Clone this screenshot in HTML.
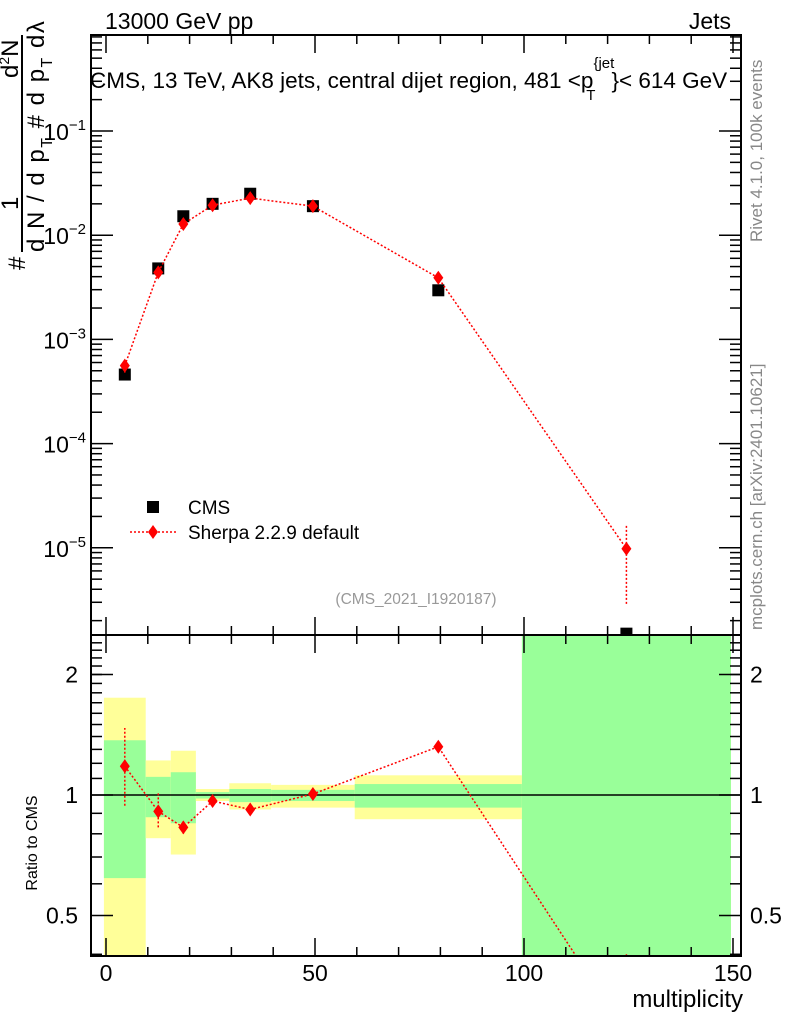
<!DOCTYPE html>
<html><head><meta charset="utf-8"><style>
html,body{margin:0;padding:0;background:#fff;width:786px;height:1024px;overflow:hidden}
svg{display:block;font-family:"Liberation Sans",sans-serif}
</style></head><body>
<svg id="chart" width="786" height="1024" viewBox="0 0 786 1024" xmlns="http://www.w3.org/2000/svg" overflow="hidden">
<text x="105" y="29" font-size="23">13000 GeV pp</text>
<text x="731" y="29" font-size="23" text-anchor="end">Jets</text>
<text x="90" y="88" font-size="22.5">CMS, 13 TeV, AK8 jets, central dijet region, 481 &lt;p<tspan font-size="15" dy="-20">{jet</tspan><tspan font-size="15" dx="-28" dy="32">T</tspan><tspan dx="16" dy="-12">}&lt; 614 GeV</tspan></text>
<text transform="translate(762,242) rotate(-90)" font-size="17" fill="#888">Rivet 4.1.0,  100k events</text>
<text transform="translate(762,630) rotate(-90)" font-size="17" fill="#888">mcplots.cern.ch [arXiv:2401.10621]</text>
<text x="416" y="604" font-size="15.5" fill="#999" text-anchor="middle">(CMS_2021_I1920187)</text>
<g font-size="24">
<text transform="translate(25,270) rotate(-90)">#</text>
<text transform="translate(18,210) rotate(-90)">1</text>
<text transform="translate(18,78) rotate(-90)">d<tspan font-size="14" dy="-9">2</tspan><tspan dy="9">N</tspan></text>
<line x1="22" y1="252" x2="22" y2="35" stroke="#000" stroke-width="2"/>
<text transform="translate(44,252) rotate(-90)" letter-spacing="1.5">d N / d p<tspan font-size="16" dy="8">T</tspan><tspan dy="-8">  # d p</tspan><tspan font-size="16" dy="8">T</tspan><tspan dy="-8">  dλ</tspan></text>
</g>
<text transform="translate(37,843) rotate(-90)" font-size="16" text-anchor="middle">Ratio to CMS</text>
<text x="743" y="1007" font-size="24" text-anchor="end">multiplicity</text>
<g id="g"></g>
</svg>
<script>
const binEdges=[-0.5,9.5,15.5,21.5,29.5,39.5,59.5,99.5,149.5];
const xCenters=[4.5,12.5,18.5,25.5,34.5,49.5,79.5,124.5];
const cmsValues=[4.6e-4,4.8e-3,1.52e-2,2.0e-2,2.5e-2,1.9e-2,2.96e-3,1.5e-6];
const sherpaValues=[5.6e-4,4.4e-3,1.28e-2,1.94e-2,2.27e-2,1.9e-2,3.9e-3,9.8e-6];
const sherpaErrLo=[4.8e-4,4.2e-3,1.22e-2,1.88e-2,2.2e-2,1.85e-2,3.8e-3,2.9e-6];
const sherpaErrHi=[6.4e-4,4.6e-3,1.34e-2,2.0e-2,2.34e-2,1.95e-2,4.0e-3,1.65e-5];
const ratioValues=[1.18,0.91,0.83,0.966,0.92,1.006,1.32,0.255];
const ratioErrLo=[0.94,0.83,0.80,0.95,0.90,0.99,1.28,0.1];
const ratioErrHi=[1.47,1.01,0.86,0.99,0.94,1.02,1.36,0.4];
const yellowHi=[1.75,1.22,1.29,1.035,1.07,1.06,1.12,3];
const yellowLo=[0.3,0.78,0.71,0.966,0.92,0.93,0.87,0.3];
const greenHi=[1.37,1.11,1.14,1.017,1.035,1.03,1.065,3];
const greenLo=[0.62,0.88,0.85,0.98,0.96,0.966,0.93,0.3];
const xTicks=[0,50,100,150];
const ratioTicks=[0.5,1,2];
const ratioTickLabels=["0.5","1","2"];
const decades=[-5,-4,-3,-2,-1];

const NS="http://www.w3.org/2000/svg";
const g=document.getElementById('g');
const L=91,R=741,T=35,M=635,B=956;
const X=v=>106+v*(627/150);
const Y=v=>131-(Math.log10(v)+1)*104.2;
const YR=v=>795-Math.log2(v)*120.5;
function el(t,a,p){const e=document.createElementNS(NS,t);for(const k in a)e.setAttribute(k,a[k]);(p||g).appendChild(e);return e;}
const defs=el('defs',{});
const c1=el('clipPath',{id:'cm'},defs);el('rect',{x:L,y:T,width:R-L,height:M-T},c1);
const c2=el('clipPath',{id:'cr'},defs);el('rect',{x:L,y:M,width:R-L,height:B-M},c2);
const gm=el('g',{'clip-path':'url(#cm)'});
const gr=el('g',{'clip-path':'url(#cr)'});
for(let i=0;i<8;i++){
 const x0=X(binEdges[i]),w=X(binEdges[i+1])-x0;
 const y=el('rect',{x:x0,y:YR(yellowHi[i]),width:w,height:YR(yellowLo[i])-YR(yellowHi[i]),fill:'#ffff99'},gr);
 
 
 const gg=el('rect',{x:x0,y:YR(greenHi[i]),width:w,height:YR(greenLo[i])-YR(greenHi[i]),fill:'#99ff99'},gr);
 
 
}
el('line',{x1:L,x2:R,y1:YR(1),y2:YR(1),stroke:'#000','stroke-width':1.5},gr);
let pts=xCenters.map((x,i)=>X(x)+','+YR(ratioValues[i])).join(' ');
el('polyline',{points:pts,fill:'none',stroke:'#f00','stroke-width':1.5,'stroke-dasharray':'2,2'},gr);
xCenters.forEach((x,i)=>{
 el('line',{x1:X(x),x2:X(x),y1:YR(ratioErrLo[i]),y2:YR(ratioErrHi[i]),stroke:'#f00','stroke-width':1.5,'stroke-dasharray':'2,2'},gr);
 const d=el('path',{d:`M${X(x)},${YR(ratioValues[i])-7}l5,7l-5,7l-5,-7z`,fill:'#f00'},gr);
 
 
});
xCenters.forEach((x,i)=>{
 const s=el('rect',{x:X(x)-6,y:Y(cmsValues[i])-6,width:12,height:12,fill:'#000'},gm);
 
 
});
pts=xCenters.map((x,i)=>X(x)+','+Y(sherpaValues[i])).join(' ');
el('polyline',{points:pts,fill:'none',stroke:'#f00','stroke-width':1.5,'stroke-dasharray':'2,2'},gm);
xCenters.forEach((x,i)=>{
 el('line',{x1:X(x),x2:X(x),y1:Y(sherpaErrLo[i]),y2:Y(sherpaErrHi[i]),stroke:'#f00','stroke-width':1.5,'stroke-dasharray':'2,2'},gm);
 const d=el('path',{d:`M${X(x)},${Y(sherpaValues[i])-7}l5,7l-5,7l-5,-7z`,fill:'#f00'},gm);
 
 
});
el('rect',{x:L,y:T,width:R-L,height:M-T,fill:'none',stroke:'#000','stroke-width':2});
el('rect',{x:L,y:M,width:R-L,height:B-M,fill:'none',stroke:'#000','stroke-width':2});
const tk=(x1,y1,x2,y2)=>el('line',{x1,y1,x2,y2,stroke:'#000','stroke-width':1.5});
for(let v=0;v<=150;v+=10){
 const x=X(v),maj=v%50==0,l=maj?18:9;
 tk(x,T,x,T+l);tk(x,M,x,M-l);tk(x,M,x,M+l);tk(x,B,x,B-l);
}
xTicks.forEach(v=>{const t=el('text',{x:X(v),y:981,'font-size':23,'text-anchor':'middle'});t.textContent=v;
 });
for(let d=-6;d<=0;d++)for(let m=1;m<10;m++){
 const v=m*Math.pow(10,d),y=Y(v);if(y<T||y>M)continue;const l=m==1?22:11;
 tk(L,y,L+l,y);tk(R,y,R-l,y);
}
decades.forEach(d=>{const t=el('text',{x:86,y:Y(Math.pow(10,d))+9,'font-size':23,'text-anchor':'end'});
 t.innerHTML='10<tspan font-size="15" dy="-10">−'+(-d)+'</tspan>';
 });
[0.4,0.5,0.6,0.7,0.8,0.9,1,2].forEach(v=>{const y=YR(v),l=[0.5,1,2].includes(v)?22:11;tk(L,y,L+l,y);tk(R,y,R-l,y);});
for(let v=1.1;v<2.5;v+=0.1){const y=YR(v);if(y<M)continue;tk(L,y,L+11,y);tk(R,y,R-11,y);}
ratioTicks.forEach((v,i)=>{
 const a=el('text',{x:78,y:YR(v)+8,'font-size':23,'text-anchor':'end'});a.textContent=ratioTickLabels[i];
 
 const b=el('text',{x:750,y:YR(v)+8,'font-size':23});b.textContent=ratioTickLabels[i];
 
});
const l1=el('rect',{x:147,y:501,width:12,height:12,fill:'#000'});

const t1=el('text',{x:188,y:514,'font-size':19});t1.textContent='CMS';

el('line',{x1:130,x2:176,y1:532,y2:532,stroke:'#f00','stroke-width':1.5,'stroke-dasharray':'2,2'});
const l2=el('path',{d:'M153,525l5,7l-5,7l-5,-7z',fill:'#f00'});

const t2=el('text',{x:188,y:539,'font-size':19});t2.textContent='Sherpa 2.2.9 default';

</script>
</body></html>
